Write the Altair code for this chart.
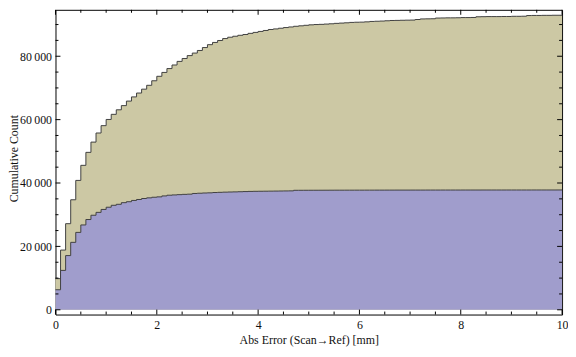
import altair as alt
import pandas as pd

BIN_WIDTH = 0.1
X_MAX = 10

# cumulative counts per 0.1 mm bin (upper, tan series)
tan_cum = [9830, 18840, 27170, 34710, 40820, 45580, 49670, 52910, 55780, 58100,
           60050, 61670, 63100, 64420, 65850, 67170, 68390, 69610, 70830, 72260,
           73670, 74890, 76110, 77240, 78370, 79290, 80200, 81000, 81820, 82740,
           83650, 84350, 84970, 85580, 86000, 86310, 86610, 86860, 87220, 87520,
           87830, 88130, 88440, 88620, 88840, 89050, 89240, 89450, 89600, 89760,
           89910, 90000, 90060, 90150, 90240, 90370, 90460, 90550, 90670, 90730,
           90760, 90850, 90980, 91040, 91100, 91190, 91280, 91310, 91350, 91380,
           91410, 91590, 91770, 91800, 91830, 92050, 92080, 92110, 92110, 92140,
           92200, 92200, 92230, 92450, 92480, 92510, 92510, 92510, 92540, 92540,
           92600, 92600, 92630, 92840, 92870, 92870, 92900, 92900, 92930, 92930]

# cumulative counts per 0.1 mm bin (lower, blue series)
blue_cum = [6320, 12430, 17100, 21280, 24420, 26770, 28480, 29830, 30740, 31660,
            32360, 32970, 33280, 33800, 34100, 34500, 34800, 35110, 35320, 35510,
            35630, 35930, 36150, 36240, 36330, 36420, 36480, 36700, 36780, 36850,
            36900, 37000, 37060, 37120, 37160, 37200, 37250, 37300, 37350, 37380,
            37400, 37420, 37440, 37460, 37480, 37500, 37520, 37700, 37705, 37710,
            37715, 37720, 37725, 37730, 37735, 37740, 37740, 37745, 37745, 37750,
            37750, 37755, 37755, 37760, 37760, 37765, 37765, 37770, 37770, 37770,
            37775, 37775, 37775, 37780, 37780, 37780, 37785, 37785, 37785, 37785,
            37790, 37790, 37790, 37790, 37795, 37795, 37795, 37795, 37795, 37800,
            37800, 37800, 37800, 37800, 37805, 37805, 37805, 37805, 37805, 37810]

x_major = [0, 2, 4, 6, 8, 10]
x_minor = [0.5, 1, 1.5, 2.5, 3, 3.5, 4.5, 5, 5.5, 6.5, 7, 7.5, 8.5, 9, 9.5]
y_major = [0, 20000, 40000, 60000, 80000]
y_minor = [5000, 10000, 15000, 25000, 30000, 35000, 45000, 50000, 55000,
           65000, 70000, 75000, 85000, 90000]

X_TITLE = "Abs Error (Scan\u2192Ref) [mm]"
Y_TITLE = "Cumulative Count"

TAN = "#CCC8A4"
BLUE = "#A09DCC"
EDGE = "#404040"
FONT = "Liberation Serif"

W, H = 512, 308

edges = [round(i * BIN_WIDTH, 1) for i in range(len(tan_cum))] + [X_MAX]


def step_df(vals):
    return pd.DataFrame({"x": edges, "y": vals + [vals[-1]], "zero": [0] * len(edges)})


xs = alt.Scale(domain=[0, 10], nice=False, zero=False)
ys = alt.Scale(domain=[-1500, 94650], nice=False, zero=False)

x_axis = alt.Axis(values=x_major, ticks=False, domain=False, grid=False,
                  labelFont=FONT, labelFontSize=12, labelColor="#111",
                  labelPadding=5, format="d", labelFlush=False,
                  title=X_TITLE, titleFont=FONT, titleFontSize=12,
                  titleFontWeight="normal", titleColor="#111",
                  titleX=256, titleY=29, titleBaseline="alphabetic",
                  titleAlign="center")
y_axis = alt.Axis(values=y_major, ticks=False, domain=False, grid=False,
                  labelFont=FONT, labelFontSize=12, labelColor="#111",
                  labelPadding=4, labelFlush=False,
                  labelExpr="replace(format(datum.value, ','), ',', '\u2009')",
                  title=Y_TITLE, titleFont=FONT, titleFontSize=12,
                  titleFontWeight="normal", titleColor="#111",
                  titleX=-38, titleY=150, titleBaseline="alphabetic",
                  titleAlign="center", titleAngle=270)


def X(field):
    return alt.X(field, scale=xs, axis=x_axis)


def Y(field):
    return alt.Y(field, scale=ys, axis=y_axis)


def area_layers(vals, color):
    base = alt.Chart(step_df(vals))
    a = base.mark_area(interpolate="step-after", color=color, opacity=1).encode(
        x=X("x:Q"), y=Y("y:Q"), y2="zero:Q",
    )
    l = base.mark_line(interpolate="step-after", color=EDGE, strokeWidth=1).encode(
        x=X("x:Q"), y=Y("y:Q"),
    )
    return [a, l]


def x_ticks(vals, length):
    df = pd.DataFrame({"v": vals})
    b = alt.Chart(df).mark_rule(color="black", strokeWidth=1).encode(
        x=X("v:Q"), y=alt.value(H), y2=alt.value(H - length))
    t = alt.Chart(df).mark_rule(color="black", strokeWidth=1).encode(
        x=X("v:Q"), y=alt.value(0), y2=alt.value(length))
    return [b, t]


def y_ticks(vals, length):
    df = pd.DataFrame({"v": vals})
    lft = alt.Chart(df).mark_rule(color="black", strokeWidth=1).encode(
        y=Y("v:Q"), x=alt.value(0), x2=alt.value(length))
    rgt = alt.Chart(df).mark_rule(color="black", strokeWidth=1).encode(
        y=Y("v:Q"), x=alt.value(W), x2=alt.value(W - length))
    return [lft, rgt]


layers = (area_layers(tan_cum, TAN) + area_layers(blue_cum, BLUE)
          + x_ticks(x_major, 5) + x_ticks(x_minor, 3)
          + y_ticks(y_major, 5) + y_ticks(y_minor, 3))

chart = alt.layer(*layers).properties(
    width=W, height=H,
    autosize=alt.AutoSizeParams(type="none"),
    padding={"left": 48, "top": 0, "right": 6, "bottom": 33},
    background="white",
).configure_view(stroke="black", strokeWidth=1)

chart.save("out.html", embed_options={"renderer": "svg", "actions": False})
